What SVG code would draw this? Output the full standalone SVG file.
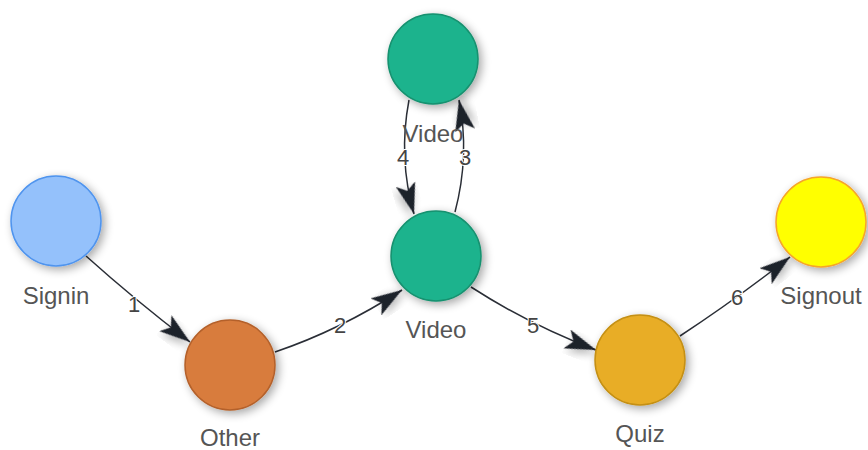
<svg xmlns="http://www.w3.org/2000/svg" width="868" height="450" viewBox="0 0 868 450">
<defs>
<style>
.lbl{font-family:"Liberation Sans",Arial,sans-serif;font-size:24px;fill:#555;text-anchor:middle}
.el{font-family:"Liberation Sans",Arial,sans-serif;font-size:22px;fill:#444;text-anchor:middle;stroke:#fff;stroke-width:2px;paint-order:stroke}
.edge{fill:none;stroke:#2a2e36;stroke-width:1.5;marker-end:url(#arr)}
.node circle{stroke-width:1.5;filter:url(#sh)}
</style>
<filter id="sh" x="-50%" y="-50%" width="200%" height="200%">
<feGaussianBlur in="SourceAlpha" stdDeviation="5"/>
<feOffset dx="3" dy="3" result="b"/>
<feComponentTransfer><feFuncA type="linear" slope="0.35"/></feComponentTransfer>
<feMerge><feMergeNode/><feMergeNode in="SourceGraphic"/></feMerge>
</filter>
<filter id="sh2" x="-50%" y="-50%" width="200%" height="200%">
<feGaussianBlur in="SourceAlpha" stdDeviation="4"/>
<feOffset dx="3" dy="3" result="b"/>
<feComponentTransfer><feFuncA type="linear" slope="0.3"/></feComponentTransfer>
<feMerge><feMergeNode/><feMergeNode in="SourceGraphic"/></feMerge>
</filter>
<marker id="arr" markerUnits="userSpaceOnUse" markerWidth="34" markerHeight="26" refX="31" refY="11" orient="auto">
<path d="M0,1 L31,11 L0,21 L7,11 z" fill="#1f232b" filter="url(#sh2)"/>
</marker>
</defs>
<g id="connectors">
<path class="edge" d="M86 256 Q135 300 190 342"/>
<path class="edge" d="M275 352 Q340 330 402 290"/>
<path class="edge" d="M455 212 Q470 155 459 100"/>
<path class="edge" d="M409 100 Q398 158 414 214"/>
<path class="edge" d="M471 287 Q530 325 596 350"/>
<path class="edge" d="M680 336 Q735 300 790 257"/>
<text class="el" x="134" y="312">1</text>
<text class="el" x="340" y="333">2</text>
<text class="el" x="465" y="165">3</text>
<text class="el" x="403" y="165">4</text>
<text class="el" x="533" y="333">5</text>
<text class="el" x="737" y="305">6</text>
</g>
<g id="signin" class="node"><circle cx="56" cy="221" r="45" fill="#94c1fb" stroke="#4f94ee"/><text class="lbl" x="56" y="304">Signin</text></g>
<g id="other" class="node"><circle cx="230" cy="365" r="45" fill="#d87c3e" stroke="#b4612b"/><text class="lbl" x="230" y="446">Other</text></g>
<g id="video-top" class="node"><circle cx="433" cy="59" r="45" fill="#1eb38d" stroke="#17916f"/><text class="lbl" x="433" y="142">Video</text></g>
<g id="video" class="node"><circle cx="436" cy="256" r="45" fill="#1eb38d" stroke="#17916f"/><text class="lbl" x="436" y="338">Video</text></g>
<g id="quiz" class="node"><circle cx="640" cy="360" r="45" fill="#e8ad27" stroke="#c48f12"/><text class="lbl" x="640" y="442">Quiz</text></g>
<g id="signout" class="node"><circle cx="821" cy="222" r="45" fill="#ffff00" stroke="#f5a52a"/><text class="lbl" x="821" y="304">Signout</text></g>
</svg>
